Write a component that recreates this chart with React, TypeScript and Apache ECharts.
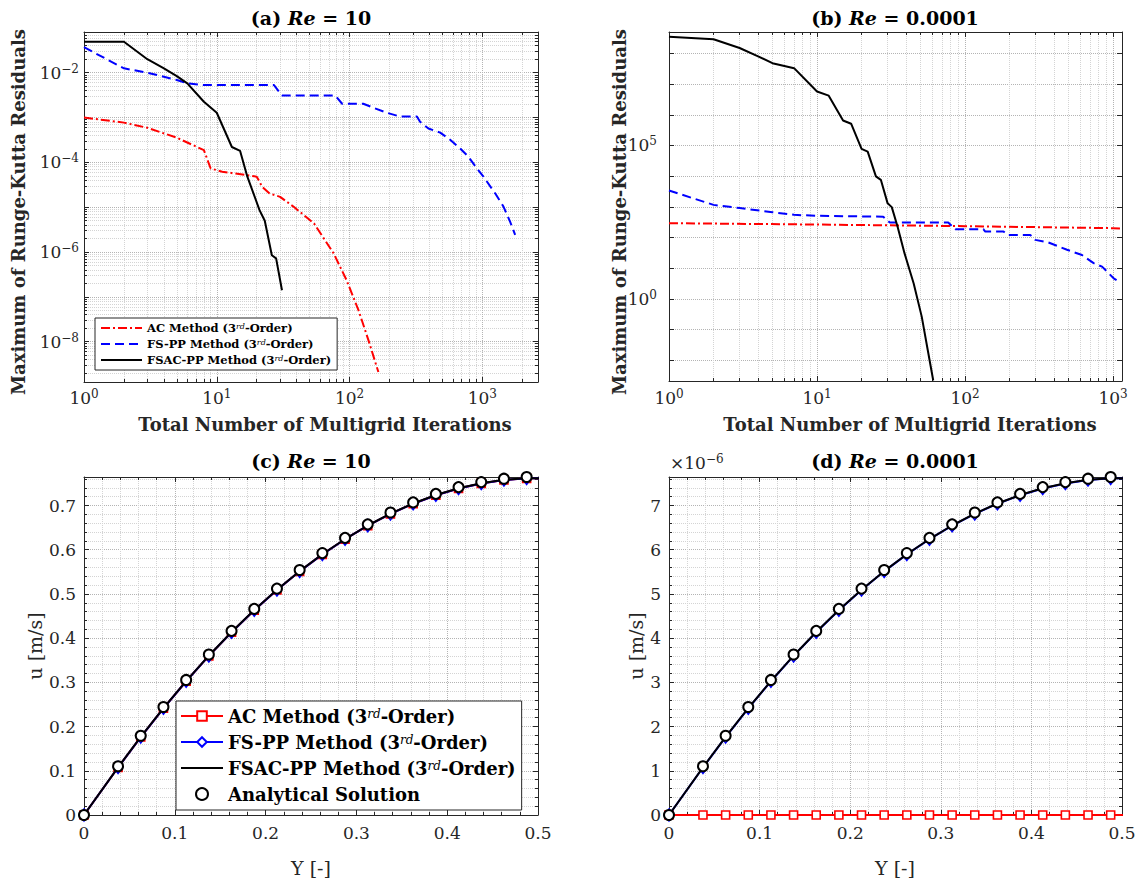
import React, { useEffect, useRef } from "react";
import * as echarts from "echarts";

const SERIF = '"DejaVu Serif", "Liberation Serif", serif';
const AX = "#262626";
const GRID_MAJOR = "#b4b4b4";
const GRID_MINOR = "#d4d4d4";

const NAME_AC = "AC Method (3rd-Order)";
const NAME_FS = "FS-PP Method (3rd-Order)";
const NAME_FSAC = "FSAC-PP Method (3rd-Order)";
const NAME_AN = "Analytical Solution";

// ---------- (a) Re = 10 : residual history ----------
const aAcIter = [1, 2, 3, 5, 8, 9, 11, 20, 22, 25, 30, 38, 54, 76, 95, 117, 139, 165];
const aAcRes = [1.0e-3, 7.7e-4, 5.9e-4, 3.55e-4, 1.88e-4, 7.3e-5, 6.2e-5, 4.8e-5, 2.85e-5, 2.03e-5, 1.7e-5, 1.02e-5, 4.35e-6, 9.3e-7, 2.36e-7, 5.0e-8, 1.07e-8, 2.1e-9];
const aFsIter = [1, 2, 3, 5, 6, 8, 27, 31, 78, 88, 127, 151, 191, 240, 322, 340, 393, 482, 573, 681, 787, 910, 1021, 1250, 1445, 1623, 1770];
const aFsRes = [3.7e-2, 1.25e-2, 1.0e-2, 6.9e-3, 5.8e-3, 5.3e-3, 5.3e-3, 3.1e-3, 3.1e-3, 2.03e-3, 2.03e-3, 1.66e-3, 1.28e-3, 1.05e-3, 1.05e-3, 8.05e-4, 5.7e-4, 4.6e-4, 3.2e-4, 2.05e-4, 1.33e-4, 7.4e-5, 4.8e-5, 2.04e-5, 1.03e-5, 4.7e-6, 2.4e-6];
const aFsacIter = [1, 2, 3, 4, 5, 6, 8, 10, 13, 15, 17, 21, 23, 26, 28, 31];
const aFsacRes = [4.9e-2, 4.9e-2, 2.0e-2, 1.25e-2, 8.4e-3, 5.8e-3, 2.25e-3, 1.28e-3, 2.2e-4, 1.8e-4, 4.8e-5, 8.6e-6, 5.0e-6, 8.5e-7, 7.2e-7, 1.4e-7];

// ---------- (b) Re = 0.0001 : residual history ----------
const bAcIter = [1, 10, 100, 1000, 1150];
const bAcRes = [294, 265, 235, 202, 196];
const bFsIter = [1, 2, 3, 5, 7, 10, 28, 31, 77, 86, 133, 137, 182, 193, 276, 298, 366, 489, 617, 740, 843, 1010, 1092];
const bFsRes = [3400, 1160, 910, 670, 550, 510, 480, 310, 310, 187, 187, 157, 157, 122, 122, 84, 69, 40, 27, 14.6, 11.3, 4.7, 3.7];
const bFsacIter = [1, 2, 3, 4, 5, 7, 10, 12, 15, 17, 20, 22, 25, 27, 30, 32, 35, 39, 45, 51, 56, 61];
const bFsacRes = [3.5e8, 2.9e8, 1.5e8, 8e7, 4.8e7, 3.3e7, 5.7e6, 4.2e6, 6.5e5, 5.1e5, 7.7e4, 6.3e4, 9.8e3, 7.6e3, 1.3e3, 980, 228, 31, 3.2, 0.265, 0.0217, 2.2e-3];

// ---------- (c) Re = 10 : velocity profile ----------
const cYAna = [0, 0.0375, 0.0625, 0.0875, 0.1125, 0.1375, 0.1625, 0.1875, 0.2125, 0.2375, 0.2625, 0.2875, 0.3125, 0.3375, 0.3625, 0.3875, 0.4125, 0.4375, 0.4625, 0.4875];
const cYNum = [0, 0.0375, 0.0625, 0.0875, 0.1125, 0.1375, 0.1625, 0.1875, 0.2125, 0.2375, 0.2625, 0.2875, 0.3125, 0.3375, 0.3625, 0.3875, 0.4125, 0.4375, 0.4625, 0.4875, 0.5125];
const cAna = [0, 0.1104, 0.1793, 0.2443, 0.3055, 0.3629, 0.4164, 0.4662, 0.5121, 0.5541, 0.5924, 0.6268, 0.6574, 0.6842, 0.7071, 0.7263, 0.7416, 0.753, 0.7607, 0.7645];
const cAc = [0, 0.1074, 0.1763, 0.2413, 0.3025, 0.3599, 0.4134, 0.4632, 0.5091, 0.5511, 0.5894, 0.6238, 0.6544, 0.6812, 0.7041, 0.7233, 0.7386, 0.75, 0.7577, 0.7615, 0.7615];
const cFs = [0, 0.1074, 0.1763, 0.2413, 0.3025, 0.3599, 0.4134, 0.4632, 0.5091, 0.5511, 0.5894, 0.6238, 0.6544, 0.6812, 0.7041, 0.7233, 0.7386, 0.75, 0.7577, 0.7615, 0.7615];
const cFsac = [0, 0.1078, 0.1767, 0.2417, 0.3029, 0.3603, 0.4138, 0.4636, 0.5095, 0.5515, 0.5898, 0.6242, 0.6548, 0.6816, 0.7045, 0.7237, 0.739, 0.7504, 0.7581, 0.7619, 0.7619];

// ---------- (d) Re = 0.0001 : velocity profile ----------
const dAna = [0, 1.104e-6, 1.793e-6, 2.443e-6, 3.055e-6, 3.629e-6, 4.164e-6, 4.662e-6, 5.121e-6, 5.541e-6, 5.924e-6, 6.268e-6, 6.574e-6, 6.842e-6, 7.071e-6, 7.263e-6, 7.416e-6, 7.53e-6, 7.607e-6, 7.645e-6];
const dAc = [0, 0, 0, 0, 0, 0, 0, 0, 0, 0, 0, 0, 0, 0, 0, 0, 0, 0, 0, 0, 0];
const dFs = [0, 1.074e-6, 1.763e-6, 2.413e-6, 3.025e-6, 3.599e-6, 4.134e-6, 4.632e-6, 5.091e-6, 5.511e-6, 5.894e-6, 6.238e-6, 6.544e-6, 6.812e-6, 7.041e-6, 7.233e-6, 7.386e-6, 7.5e-6, 7.577e-6, 7.615e-6, 7.615e-6];
const dFsac = [0, 1.078e-6, 1.767e-6, 2.417e-6, 3.029e-6, 3.603e-6, 4.138e-6, 4.636e-6, 5.095e-6, 5.515e-6, 5.898e-6, 6.242e-6, 6.548e-6, 6.816e-6, 7.045e-6, 7.237e-6, 7.39e-6, 7.504e-6, 7.581e-6, 7.619e-6, 7.619e-6];

// ---------- axis ranges and tick labels ----------
const aXRange = [1, 2630];
const aYRange = [1.26e-9, 0.0809];
const bXRange = [1, 1150];
const bYRange = [2.12e-3, 4.97e8];
const uXRange = [0, 0.5];
const cURange = [0, 0.7645];
const dURange = [0, 7.645e-6];
const aXLabels = [1, 10, 100, 1000];
const aYLabels = [1e-8, 1e-6, 1e-4, 1e-2];
const bXLabels = [1, 10, 100, 1000];
const bYLabels = [1, 1e5];

const decadeTicks = (lo: number, hi: number) => {
  const out: number[] = [];
  for (let e = lo; e <= hi; e++) out.push(Number("1e" + e));
  return out;
};
const minorTicks = (lo: number, hi: number) => {
  const out: number[] = [];
  for (let e = lo; e <= hi; e++) for (let m = 2; m <= 9; m++) out.push(Number(m + "e" + e));
  return out;
};

const POW_RICH = {
  m: { fontFamily: SERIF, fontSize: 17, lineHeight: 20, color: AX },
  s: { fontFamily: SERIF, fontSize: 12, lineHeight: 7, verticalAlign: "top", color: AX },
};
const powLabel = (v: number) => {
  const e = Math.round(Math.log10(v));
  return `{m|10}{s|${e < 0 ? "\u2212" + -e : e}}`;
};

function logAxes(dim: string, grid: number, range: number[], labels: number[], majors: number[], minors: number[], margin: number, out: any[]) {
  const mainPos = dim === "x" ? "bottom" : "left";
  const mirPos = dim === "x" ? "top" : "right";
  const base = { type: "log", logBase: 10, gridIndex: grid, min: range[0], max: range[1] };
  const line = { show: true, onZero: false, lineStyle: { color: AX, width: 1 } };
  const idx = out.length;
  out.push({
    ...base, position: mainPos, axisLine: line,
    axisTick: { show: true, inside: true, length: 5, customValues: majors, lineStyle: { color: AX } },
    axisLabel: { show: true, customValues: labels, formatter: powLabel, margin, rich: POW_RICH, color: AX },
    splitLine: { show: true, lineStyle: { color: GRID_MAJOR, type: "dotted", width: 1 } },
  });
  if (minors.length) {
    out.push({
      ...base, position: mainPos, axisLine: { show: false, onZero: false },
      axisTick: { show: true, inside: true, length: 3, customValues: minors, lineStyle: { color: AX } },
      axisLabel: { show: false },
      splitLine: { show: true, lineStyle: { color: GRID_MINOR, type: "dotted", width: 1 } },
    });
  }
  out.push({
    ...base, position: mirPos, axisLine: line,
    axisTick: { show: true, inside: true, length: 5, customValues: majors, lineStyle: { color: AX } },
    axisLabel: { show: false }, splitLine: { show: false },
  });
  if (minors.length) {
    out.push({
      ...base, position: mirPos, axisLine: { show: false, onZero: false },
      axisTick: { show: true, inside: true, length: 3, customValues: minors, lineStyle: { color: AX } },
      axisLabel: { show: false }, splitLine: { show: false },
    });
  }
  return idx;
}

function linAxes(dim: string, grid: number, range: number[], interval: number, fmt: any, margin: number, out: any[]) {
  const mainPos = dim === "x" ? "bottom" : "left";
  const mirPos = dim === "x" ? "top" : "right";
  const base = {
    type: "value", gridIndex: grid, min: range[0], max: range[1], interval,
    minorTick: { show: true, splitNumber: 5, length: 3, lineStyle: { color: AX } },
  };
  const line = { show: true, onZero: false, lineStyle: { color: AX, width: 1 } };
  const idx = out.length;
  out.push({
    ...base, position: mainPos, axisLine: line,
    axisTick: { show: true, inside: true, length: 5, lineStyle: { color: AX } },
    axisLabel: {
      show: true, formatter: fmt, margin, fontFamily: SERIF, fontSize: 17, lineHeight: 20, color: AX,
      showMaxLabel: dim === "x",
    },
    splitLine: { show: true, lineStyle: { color: GRID_MAJOR, type: "dotted", width: 1 } },
    minorSplitLine: { show: true, lineStyle: { color: GRID_MINOR, type: "dotted", width: 1 } },
  });
  out.push({
    ...base, position: mirPos, axisLine: line,
    axisTick: { show: true, inside: true, length: 5, lineStyle: { color: AX } },
    axisLabel: { show: false }, splitLine: { show: false }, minorSplitLine: { show: false },
  });
  return idx;
}

const zip = (xs: number[], ys: number[]) => xs.map((x, i) => [x, ys[i]]);

const legendFmt = (name: string) => {
  const n = name.trim();
  const k = n.indexOf("3rd");
  if (k < 0) return `{t|${n}}`;
  return `{t|${n.slice(0, k)}3}{s|rd}{t|${n.slice(k + 3)}}`;
};

function buildOption() {
  const xAxes: any[] = [];
  const yAxes: any[] = [];
  const xa = logAxes("x", 0, aXRange, aXLabels, decadeTicks(0, 4), minorTicks(0, 3), 6, xAxes);
  const ya = logAxes("y", 0, aYRange, aYLabels, decadeTicks(-9, -1), minorTicks(-9, -2), 5, yAxes);
  const xb = logAxes("x", 1, bXRange, bXLabels, decadeTicks(0, 4), minorTicks(0, 3), 7, xAxes);
  const yb = logAxes("y", 1, bYRange, bYLabels, decadeTicks(-3, 9), [], 12, yAxes);
  const fmt1 = (v: number) => (v === 0 ? "0" : v.toFixed(1));
  const xc = linAxes("x", 2, uXRange, 0.1, fmt1, 8, xAxes);
  const yc = linAxes("y", 2, cURange, 0.1, fmt1, 8, yAxes);
  const xd = linAxes("x", 3, uXRange, 0.1, fmt1, 8, xAxes);
  const yd = linAxes("y", 3, dURange, 1e-6, (v: number) => String(Math.round(v * 1e6)), 8, yAxes);

  const RED = "#ff0000";
  const BLUE = "#0000ff";
  const BLACK = "#000000";
  const dashDot = [9, 3, 2, 3];
  const dashed = [9, 5];

  const resSeries = (name: string, xi: number, yi: number, xs: number[], ys: number[], color: string, type: any, z: number) => ({
    name, type: "line", xAxisIndex: xi, yAxisIndex: yi, data: zip(xs, ys), symbol: "none",
    lineStyle: { color, width: 2, type }, itemStyle: { color }, z, silent: true,
  });
  const profSeries = (name: string, xi: number, yi: number, xs: number[], ys: number[], color: string, symbol: string, size: any, z: number) => ({
    name, type: "line", xAxisIndex: xi, yAxisIndex: yi, data: zip(xs, ys), symbol, symbolSize: size, showSymbol: symbol !== "none",
    lineStyle: { color, width: 2 }, itemStyle: { color: "#ffffff", borderColor: color, borderWidth: 1.6 }, z, silent: true,
  });
  const anaSeries = (name: string, xi: number, yi: number, xs: number[], ys: number[]) => ({
    name, type: "scatter", xAxisIndex: xi, yAxisIndex: yi, data: zip(xs, ys), symbol: "circle", symbolSize: 10,
    itemStyle: { color: "#ffffff", borderColor: BLACK, borderWidth: 2, opacity: 1 }, z: 6, silent: true,
  });

  const C = " ";
  const series = [
    resSeries(NAME_AC, xa, ya, aAcIter, aAcRes, RED, dashDot, 2),
    resSeries(NAME_FS, xa, ya, aFsIter, aFsRes, BLUE, dashed, 3),
    resSeries(NAME_FSAC, xa, ya, aFsacIter, aFsacRes, BLACK, "solid", 4),
    resSeries(NAME_AC, xb, yb, bAcIter, bAcRes, RED, dashDot, 2),
    resSeries(NAME_FS, xb, yb, bFsIter, bFsRes, BLUE, dashed, 3),
    resSeries(NAME_FSAC, xb, yb, bFsacIter, bFsacRes, BLACK, "solid", 4),
    profSeries(NAME_AC + C, xc, yc, cYNum, cAc, RED, "rect", 8, 2),
    profSeries(NAME_FS + C, xc, yc, cYNum, cFs, BLUE, "diamond", [9, 12], 3),
    profSeries(NAME_FSAC + C, xc, yc, cYNum, cFsac, BLACK, "none", 8, 4),
    anaSeries(NAME_AN, xc, yc, cYAna, cAna),
    profSeries(NAME_AC + C, xd, yd, cYNum, dAc, RED, "rect", 8, 2),
    profSeries(NAME_FS + C, xd, yd, cYNum, dFs, BLUE, "diamond", [9, 12], 3),
    profSeries(NAME_FSAC + C, xd, yd, cYNum, dFsac, BLACK, "none", 8, 4),
    anaSeries(NAME_AN, xd, yd, cYAna, dAna),
  ];

  const noSym = { opacity: 0, color: "rgba(0,0,0,0)", borderWidth: 0 };
  const legendA = {
    orient: "vertical", left: 95, top: 318, padding: [4, 6, 4, 5], itemGap: 4, itemWidth: 41, itemHeight: 12,
    backgroundColor: "#fff", borderColor: AX, borderWidth: 1, borderRadius: 0, selectedMode: false,
    data: [
      { name: NAME_AC, itemStyle: noSym },
      { name: NAME_FS, itemStyle: noSym },
      { name: NAME_FSAC, itemStyle: noSym },
    ],
    formatter: legendFmt,
    textStyle: {
      rich: {
        t: { fontFamily: SERIF, fontWeight: "bold", fontSize: 11.5, lineHeight: 12, color: "#000" },
        s: { fontFamily: SERIF, fontStyle: "italic", fontSize: 8, lineHeight: 6, verticalAlign: "top", color: "#000" },
      },
    },
    z: 10,
  };
  const legendC = {
    orient: "vertical", left: 176, top: 701, padding: [6, 6, 7, 4], itemGap: 8, itemWidth: 42, itemHeight: 12,
    backgroundColor: "#fff", borderColor: AX, borderWidth: 1, borderRadius: 0, selectedMode: false,
    data: [
      { name: NAME_AC + C },
      { name: NAME_FS + C },
      { name: NAME_FSAC + C, itemStyle: noSym },
      { name: NAME_AN },
    ],
    formatter: legendFmt,
    textStyle: {
      rich: {
        t: { fontFamily: SERIF, fontWeight: "bold", fontSize: 18, lineHeight: 16, color: "#000" },
        s: { fontFamily: SERIF, fontStyle: "italic", fontSize: 12, lineHeight: 8, verticalAlign: "top", color: "#000" },
      },
    },
    z: 10,
  };

  const titleRich = {
    n: { fontFamily: SERIF, fontWeight: "bold", fontSize: 19, fill: "#000", color: "#000" },
    i: { fontFamily: SERIF, fontWeight: "bold", fontStyle: "italic", fontSize: 19, fill: "#000", color: "#000" },
  };
  const title = (x: number, y: number, tag: string, re: string) => ({
    type: "text", x, y, z: 20,
    style: { text: `{n|(${tag}) }{i|Re}{n| = ${re}}`, rich: titleRich, align: "center", verticalAlign: "middle", textAlign: "center", textVerticalAlign: "middle" },
  });
  const label = (x: number, y: number, text: string, bold: boolean, size: number, rot: number) => ({
    type: "text", x, y, rotation: rot, z: 20,
    style: {
      text, font: `${bold ? "bold " : ""}${size}px ${SERIF}`, fill: AX,
      align: "center", verticalAlign: "middle", textAlign: "center", textVerticalAlign: "middle",
    },
  });

  const graphic = [
    title(311, 18, "a", "10"),
    title(895, 18, "b", "0.0001"),
    title(311, 461, "c", "10"),
    title(895, 461, "d", "0.0001"),
    label(325, 424, "Total Number of Multigrid Iterations", true, 18, 0),
    label(910, 424, "Total Number of Multigrid Iterations", true, 18, 0),
    label(18, 212, "Maximum of Runge-Kutta Residuals", true, 18, Math.PI / 2),
    label(619, 212, "Maximum of Runge-Kutta Residuals", true, 18, Math.PI / 2),
    label(35, 646, "u [m/s]", false, 19, Math.PI / 2),
    label(636, 646, "u [m/s]", false, 19, Math.PI / 2),
    label(311, 868, "Y [-]", false, 19, 0),
    label(895, 868, "Y [-]", false, 19, 0),
    {
      type: "text", x: 670, y: 463, z: 20,
      style: {
        text: "{m|\u00d710}{s|\u22126}", align: "left", verticalAlign: "middle", textAlign: "left", textVerticalAlign: "middle",
        rich: {
          m: { fontFamily: SERIF, fontSize: 17, lineHeight: 20, fill: AX, color: AX },
          s: { fontFamily: SERIF, fontSize: 12, lineHeight: 7, verticalAlign: "top", fill: AX, color: AX },
        },
      },
    },
  ];

  return {
    animation: false,
    backgroundColor: "#ffffff",
    grid: [
      { left: 84, top: 32, width: 454, height: 350, containLabel: false },
      { left: 669, top: 32, width: 453, height: 349, containLabel: false },
      { left: 84, top: 477, width: 454, height: 338, containLabel: false },
      { left: 669, top: 477, width: 453, height: 338, containLabel: false },
    ],
    xAxis: xAxes,
    yAxis: yAxes,
    legend: [legendA, legendC],
    series,
    graphic,
  };
}

export default function App() {
  const ref = useRef<HTMLDivElement>(null);
  useEffect(() => {
    if (!ref.current) return;
    const chart = echarts.init(ref.current, undefined, { renderer: "svg", width: 1142, height: 882 });
    chart.setOption(buildOption() as any);
    return () => chart.dispose();
  }, []);
  return (
    <div
      ref={ref}
      style={{ position: "absolute", left: 0, top: 0, width: 1142, height: 882, background: "#fff" }}
    />
  );
}
